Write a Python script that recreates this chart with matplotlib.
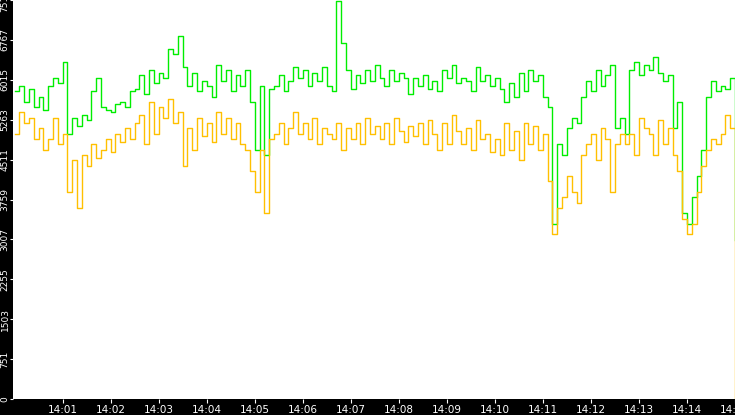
import numpy as np
import matplotlib.pyplot as plt

# samples every 6 s from 14:00:00
green = [5800, 5900, 5600, 5850, 5500, 5700, 5450, 5900, 6050, 5950,
         6350, 5000, 5300, 5150, 5350, 5250, 5800, 6050, 5500, 5450,
         5400, 5550, 5600, 5500, 5800, 5850, 6100, 5750, 6200, 5950,
         6150, 6050, 6600, 6500, 6850, 6250, 5900, 6150, 5800, 6000,
         5900, 5700, 6300, 6000, 6200, 5800, 6100, 5900, 6200, 5600,
         4700, 5900, 4600, 5850, 5900, 6100, 5800, 6000, 6250, 6050,
         6200, 5900, 6150, 6000, 6250, 5900, 5800, 7500, 6700, 6200,
         5850, 6100, 5950, 6200, 6000, 6300, 6050, 5900, 6200, 6000,
         6150, 6050, 5750, 6050, 5900, 6100, 5850, 6000, 5800, 6200,
         6050, 6300, 5950, 6050, 6000, 5800, 6250, 6000, 6100, 5900,
         6050, 5850, 5600, 5950, 5700, 6150, 5800, 6200, 6000, 6100,
         5700, 5500, 3300, 4800, 4600, 5100, 5300, 5200, 5700, 6000,
         5800, 6200, 5900, 6100, 6300, 5100, 5300, 5000, 6200, 6350,
         6100, 6300, 6200, 6450, 6150, 6000, 6100, 5100, 5600, 3500,
         3300, 3800, 4200, 4700, 5700, 6000, 5800, 5900, 5850, 6050,
         3000]
orange = [5000, 5400, 5200, 5300, 4900, 5100, 4700, 4900, 5300, 4800,
          5000, 3900, 4500, 3600, 4600, 4400, 4800, 4550, 4700, 4900,
          4650, 5000, 4850, 5100, 4900, 5200, 5350, 4800, 5600, 5000,
          5500, 5300, 5650, 5200, 5400, 4400, 5100, 4700, 5300, 4950,
          5200, 4850, 5400, 5000, 5300, 4900, 5200, 4800, 4700, 4300,
          3900, 4700, 3500, 4900, 5000, 5200, 4800, 5100, 5400, 5000,
          5200, 4900, 5300, 4800, 5100, 5000, 4900, 5200, 4700, 5100,
          4900, 5200, 4800, 5300, 5000, 5150, 4900, 5200, 4800, 5300,
          5050, 4850, 5150, 4950, 5200, 4800, 5250, 5000, 4700, 5200,
          4800, 5350, 5050, 4800, 5100, 4700, 5250, 4900, 5000, 4650,
          4900, 4600, 5200, 4700, 5050, 4500, 5200, 4800, 5150, 4700,
          5000, 4100, 3100, 3600, 3800, 4200, 3900, 3700, 4600, 4800,
          5000, 4500, 5100, 4900, 3900, 4800, 5000, 4800, 5000, 4600,
          5300, 5100, 5000, 4600, 5250, 4800, 5100, 4600, 4300, 3400,
          3100, 3300, 3900, 4400, 4700, 4900, 4800, 5000, 5350, 5100,
          0]
t = np.arange(len(green)) * 6

yticks = [0, 751, 1503, 2255, 3007, 3759, 4511, 5263, 6015, 6767, 7519]
xlabels = ['14:%02d' % m for m in range(1, 16)]

fig = plt.figure(figsize=(7.35, 4.15), dpi=100, facecolor='black')
ax = fig.add_axes([13 / 735, 16 / 415, 722 / 735, 399 / 415])
ax.set_facecolor('white')
ax.plot(t, green, color='#00ee00', lw=1, drawstyle='steps-post')
ax.plot(t, orange, color='#ffc000', lw=1, drawstyle='steps-post')
ax.set_xlim(-2, 900)
ax.set_ylim(0, 7519)
ax.set_yticks(yticks)
ax.set_yticklabels([str(v) for v in yticks], rotation=90, va='center',
                   color='white', fontsize=6.5)
ax.set_xticks([60 * (i + 1) for i in range(15)])
ax.set_xticklabels(xlabels, color='white', fontsize=7.5)
ax.tick_params(axis='y', colors='white', length=2, pad=0.5)
ax.tick_params(axis='x', colors='white', length=3, pad=1)
for s in ax.spines.values():
    s.set_visible(False)
fig.savefig('out.png', facecolor='black')
